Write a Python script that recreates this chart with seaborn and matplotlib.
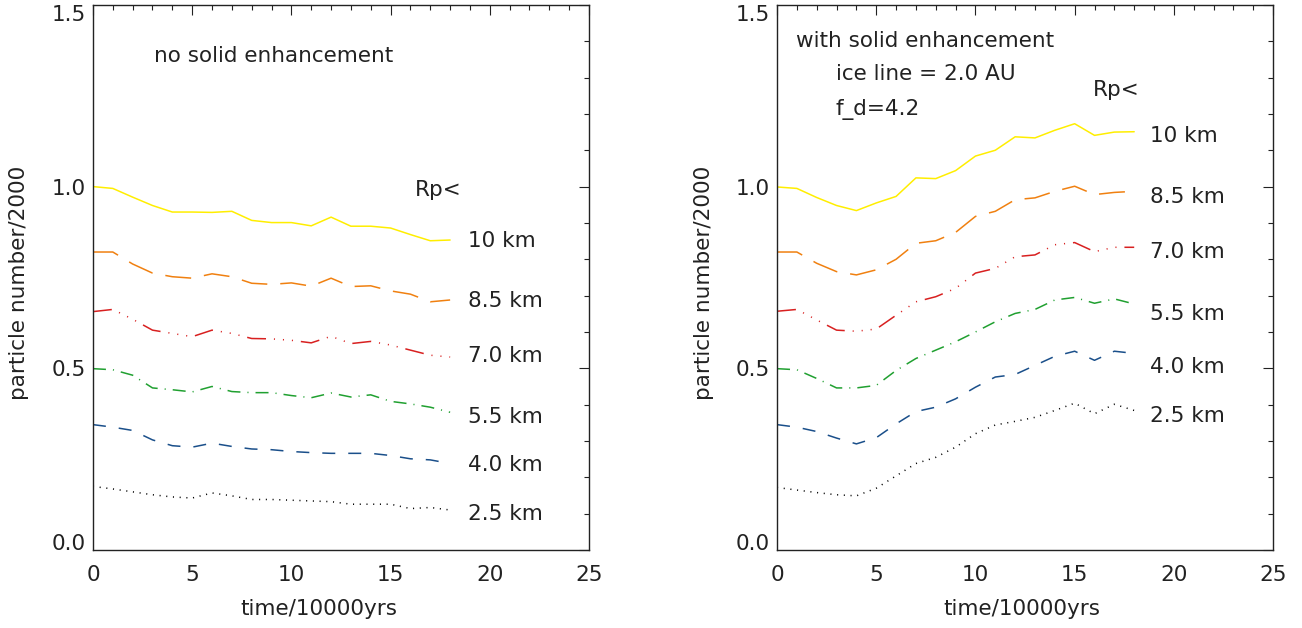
import pandas as pd
import seaborn as sns
import matplotlib
matplotlib.use('Agg')
import matplotlib.pyplot as plt
from matplotlib.ticker import MultipleLocator


# time axis (in units of 10000 yrs)
time = list(range(19))

sizes = ['10 km', '8.5 km', '7.0 km', '5.5 km', '4.0 km', '2.5 km']

# left panel: no solid enhancement
no_enh_10 = [1.000, 0.995, 0.971, 0.948, 0.930, 0.930, 0.929, 0.932, 0.907, 0.901,
             0.901, 0.892, 0.916, 0.891, 0.891, 0.886, 0.868, 0.851, 0.853]
no_enh_85 = [0.820, 0.820, 0.787, 0.762, 0.752, 0.748, 0.760, 0.752, 0.734, 0.731,
             0.735, 0.726, 0.748, 0.725, 0.727, 0.713, 0.704, 0.683, 0.688]
no_enh_70 = [0.656, 0.662, 0.635, 0.605, 0.596, 0.587, 0.605, 0.596, 0.582, 0.581,
             0.577, 0.570, 0.588, 0.568, 0.574, 0.564, 0.550, 0.536, 0.531]
no_enh_55 = [0.499, 0.496, 0.481, 0.446, 0.441, 0.435, 0.450, 0.436, 0.433, 0.433,
             0.425, 0.419, 0.432, 0.421, 0.427, 0.409, 0.402, 0.393, 0.379]
no_enh_40 = [0.345, 0.338, 0.329, 0.303, 0.287, 0.283, 0.294, 0.285, 0.278, 0.276,
             0.271, 0.268, 0.266, 0.266, 0.266, 0.260, 0.251, 0.248, 0.238]
no_enh_25 = [0.175, 0.168, 0.160, 0.152, 0.146, 0.143, 0.157, 0.149, 0.139, 0.139,
             0.137, 0.135, 0.133, 0.126, 0.126, 0.126, 0.114, 0.117, 0.110]

# right panel: with solid enhancement
enh_10 = [0.999, 0.995, 0.970, 0.948, 0.934, 0.955, 0.973, 1.024, 1.022, 1.044,
          1.084, 1.100, 1.137, 1.134, 1.155, 1.173, 1.141, 1.150, 1.151]
enh_85 = [0.820, 0.820, 0.789, 0.766, 0.757, 0.771, 0.800, 0.844, 0.851, 0.874,
          0.918, 0.932, 0.964, 0.969, 0.987, 1.001, 0.978, 0.984, 0.987]
enh_70 = [0.657, 0.662, 0.633, 0.605, 0.602, 0.608, 0.646, 0.683, 0.697, 0.720,
          0.762, 0.775, 0.807, 0.812, 0.840, 0.846, 0.821, 0.833, 0.833]
enh_55 = [0.499, 0.496, 0.472, 0.446, 0.446, 0.453, 0.494, 0.527, 0.550, 0.573,
          0.600, 0.628, 0.651, 0.662, 0.688, 0.695, 0.679, 0.691, 0.677]
enh_40 = [0.345, 0.338, 0.326, 0.308, 0.292, 0.309, 0.347, 0.381, 0.393, 0.416,
          0.448, 0.476, 0.483, 0.508, 0.533, 0.547, 0.522, 0.547, 0.541]
enh_25 = [0.172, 0.165, 0.158, 0.152, 0.149, 0.170, 0.204, 0.238, 0.255, 0.283,
          0.320, 0.344, 0.354, 0.365, 0.384, 0.404, 0.375, 0.401, 0.384]

label_y_left = [0.85, 0.685, 0.535, 0.367, 0.234, 0.10]
label_y_right = [1.140, 0.972, 0.821, 0.650, 0.504, 0.369]

y_ticks = [0.0, 0.5, 1.0, 1.5]
x_ticks = [0, 5, 10, 15, 20, 25]

colors = {'10 km': '#FFEE00', '8.5 km': '#F08010', '7.0 km': '#D82020',
          '5.5 km': '#20A030', '4.0 km': '#1A4F8A', '2.5 km': '#000000'}
# IDL-like line styles (in units of line width)
dashes = {'10 km': '',
          '8.5 km': (17, 8.5),
          '7.0 km': (12.4, 5.2, 0.7, 5.2, 0.7, 5.2, 0.7, 5.2),
          '5.5 km': (8.5, 4.6, 0.7, 4.6),
          '4.0 km': (8.5, 8.5),
          '2.5 km': (0.7, 3.7)}


def make_df(series):
    rows = []
    for name, vals in zip(sizes, series):
        for t, v in zip(time, vals):
            rows.append({'time': t, 'n': v, 'size': name})
    return pd.DataFrame(rows)


df_left = make_df([no_enh_10, no_enh_85, no_enh_70, no_enh_55, no_enh_40, no_enh_25])
df_right = make_df([enh_10, enh_85, enh_70, enh_55, enh_40, enh_25])

sns.set_style('white')
plt.rcParams['font.family'] = ['DejaVu Sans']
fs = 15.5

fig = plt.figure(figsize=(13.02, 6.28), dpi=100)
ax1 = fig.add_axes([0.0714, 0.1242, 0.381, 0.868])
ax2 = fig.add_axes([0.5968, 0.1242, 0.381, 0.868])

for ax, df in [(ax1, df_left), (ax2, df_right)]:
    sns.lineplot(data=df, x='time', y='n', hue='size', style='size',
                 palette=colors, dashes=dashes, hue_order=sizes,
                 linewidth=1.1, legend=False, ax=ax)
    ax.set_xlim(0, 25)
    ax.set_ylim(0, 1.5)
    ax.set_xticks(x_ticks)
    ax.set_xticklabels(['%d' % v for v in x_ticks])
    ax.set_yticks(y_ticks)
    ax.set_yticklabels(['%.1f' % v for v in y_ticks])
    ax.xaxis.set_minor_locator(MultipleLocator(1))
    ax.yaxis.set_minor_locator(MultipleLocator(0.1))
    ax.tick_params(which='both', direction='in', top=True, right=True,
                   color='#222222', width=0.8)
    ax.tick_params(which='major', length=7.5)
    ax.tick_params(which='minor', length=3.5)
    ax.tick_params(axis='x', which='major', pad=11, labelsize=fs, colors='#222222')
    ax.tick_params(axis='y', which='major', pad=5, labelsize=fs, colors='#222222')
    for sp in ax.spines.values():
        sp.set_linewidth(1.0)
        sp.set_color('#222222')
        sp.set_visible(True)
    ax.set_xlabel('time/10000yrs', fontsize=fs, color='#222222')
    ax.set_ylabel('particle number/2000', fontsize=fs, color='#222222')
    # keep end labels inside the frame height, like the original
    labels = ax.get_yticklabels()
    labels[0].set_va('baseline')
    labels[-1].set_va('top')

ax1.xaxis.set_label_coords(0.456, -0.09)
ax2.xaxis.set_label_coords(0.494, -0.09)
ax1.yaxis.set_label_coords(-0.128, 0.49)
ax2.yaxis.set_label_coords(-0.128, 0.49)

txt = dict(fontsize=fs, color='#222222', va='center', ha='left')
ax1.text(3.1, 1.36, 'no solid enhancement', **txt)
ax1.text(16.2, 0.99, 'Rp<', **txt)
for s, y in zip(sizes, label_y_left):
    ax1.text(18.9, y, s, **txt)

ax2.text(0.96, 1.40, 'with solid enhancement', **txt)
ax2.text(2.97, 1.309, 'ice line = 2.0 AU', **txt)
ax2.text(2.97, 1.212, 'f_d=4.2', **txt)
ax2.text(15.9, 1.267, 'Rp<', **txt)
for s, y in zip(sizes, label_y_right):
    ax2.text(18.8, y, s, **txt)

fig.savefig('out.png', dpi=100)
